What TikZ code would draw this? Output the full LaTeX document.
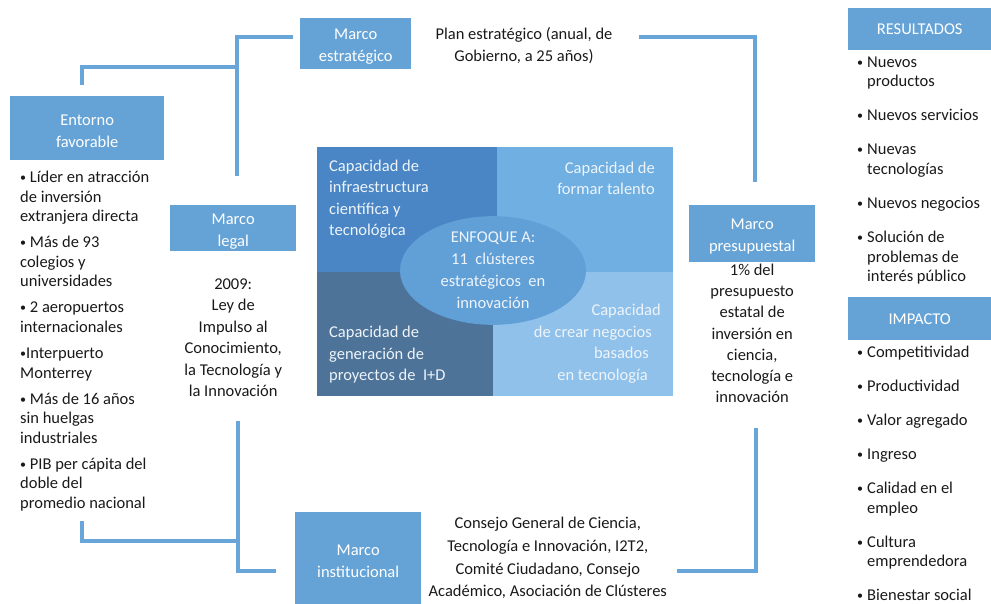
\documentclass[tikz,border=0pt]{standalone}
\usepackage{fontspec}
\setmainfont{Carlito}
\usepackage{xcolor}
\usepackage{tikz}
\usetikzlibrary{positioning,shapes.geometric}
\definecolor{frameblue}{HTML}{65A3D6}
\definecolor{linkblue}{HTML}{68A5D9}
\definecolor{capA}{HTML}{4A86C5}
\definecolor{capB}{HTML}{6FAFE2}
\definecolor{capC}{HTML}{4D7398}
\definecolor{capD}{HTML}{8FC1EA}
\definecolor{focusblue}{HTML}{619FD7}
\definecolor{softwhite}{HTML}{EEF4FA}
\newcommand{\sbul}{\raisebox{1pt}{\fontsize{12}{12}\selectfont •}}
\newcommand{\rbul}{\makebox[10pt][l]{\sbul}}
\newcommand{\rind}{\hspace*{10pt}}
\newcommand{\tstrut}{\rule{0pt}{16.5pt}}

\begin{document}
\begin{tikzpicture}[x=1pt, y=-1pt, node distance=6pt]
      \tikzstyle{frame} = [rectangle, fill=frameblue, text=white, align=center, inner sep=0pt, anchor=north west, font=\fontsize{16.5}{22}\selectfont]
      \tikzstyle{note} = [align=center, inner sep=0pt, text=black!90, font=\fontsize{16.5}{21.5}\selectfont]
      \tikzstyle{bullets} = [align=left, inner sep=0pt, anchor=west, text=black!90, font=\fontsize{16.5}{19.6}\selectfont]
      \tikzstyle{quad} = [rectangle, inner sep=0pt, anchor=north west]
      \tikzstyle{captext} = [inner sep=0pt, text=softwhite, font=\fontsize{16.5}{21.5}\selectfont]
      \tikzstyle{link} = [draw=linkblue, line width=4pt]
      \useasboundingbox (0,0) rectangle (991,603);

      % central square
      \node[quad, fill=capA, minimum width=180pt, minimum height=125pt] (qA) at (317,147) {};
      \node[quad, fill=capB, minimum width=176pt, minimum height=125pt] (qB) at (497,147) {};
      \node[quad, fill=capC, minimum width=176pt, minimum height=124pt] (qC) at (317,272) {};
      \node[quad, fill=capD, minimum width=180pt, minimum height=124pt] (qD) at (493,272) {};
      \node[captext, align=left, anchor=west] (tA) at (329,199) {Capacidad de\\infraestructura\\científica y\\tecnológica};
      \node[captext, align=right, anchor=east] (tB) at (655,178.5) {Capacidad de\\formar talento};
      \node[captext, align=left, anchor=west] (tC) at (329,355) {Capacidad de\\generación de\\proyectos de\ \ I+D};
      \node[captext, align=right, anchor=east] (tD) at (661,343.5) {Capacidad\\de crear negocios\hspace{9pt}\null\\basados\hspace{12pt}\null\\en tecnología\hspace{13pt}\null};
      \node[ellipse, fill=focusblue, minimum width=186pt, minimum height=108pt, inner sep=0pt, text=softwhite, align=center, font=\fontsize{16.5}{22}\selectfont] (focus) at (493,270.5) {ENFOQUE A:\\11\ \ clústeres\\estratégicos\ \ en\\innovación};

      % marcos
      \node[frame, minimum width=111pt, minimum height=51pt] (estrat) at (300,18) {\tstrut Marco\\estratégico};
      \node[frame, minimum width=154pt, minimum height=64pt] (entorno) at (10,96) {\tstrut Entorno\\favorable};
      \node[frame, minimum width=126pt, minimum height=46pt] (legal) at (170,205) {\tstrut Marco\\legal};
      \node[frame, minimum width=126pt, minimum height=57pt] (presu) at (689,205) {\tstrut Marco\\presupuestal};
      \node[frame, minimum width=126pt, minimum height=92pt] (inst) at (295,512) {\tstrut Marco\\institucional};
      \node[frame, minimum width=143pt, minimum height=42pt] (result) at (848,8) {RESULTADOS};
      \node[frame, minimum width=143pt, minimum height=43pt] (impact) at (848,297) {IMPACTO};

      \node[note] (plan) at (524,45.5) {Plan estratégico (anual, de\\Gobierno, a 25 años)};
      \node[note, below=27pt of legal] (ley) {2009:\\Ley de\\Impulso al\\Conocimiento,\\la Tecnología y\\la Innovación};
      \node[note, below=1.5pt of presu, font=\fontsize{16.5}{21.2}\selectfont] (budget) {1\% del\\presupuesto\\estatal de\\inversión en\\ciencia,\\tecnología e\\innovación};
      \node[note, right=7pt of inst, font=\fontsize{16.5}{22.7}\selectfont] (consejo) {Consejo General de Ciencia,\\Tecnología e Innovación, I2T2,\\Comité Ciudadano, Consejo\\Académico, Asociación de Clústeres};

      % lists
      \node[bullets] (envlist) at (20,341) {\sbul\ Líder en atracción\\de inversión\\extranjera directa\\[6.4pt]\sbul\ Más de 93\\colegios y\\universidades\\[6.4pt]\sbul\ 2 aeropuertos\\internacionales\\[6.4pt]\sbul Interpuerto\\Monterrey\\[6.4pt]\sbul\ Más de 16 años\\sin huelgas\\industriales\\[6.4pt]\sbul\ PIB per cápita del\\doble del\\promedio nacional};
      \node[bullets] (reslist) at (857,170.5) {\rbul Nuevos\\\rind productos\\[14.4pt]\rbul Nuevos servicios\\[14.4pt]\rbul Nuevas\\\rind tecnologías\\[14.4pt]\rbul Nuevos negocios\\[14.4pt]\rbul Solución de\\\rind problemas de\\\rind interés público};
      \node[bullets] (implist) at (857,473.5) {\rbul Competitividad\\[14.4pt]\rbul Productividad\\[14.4pt]\rbul Valor agregado\\[14.4pt]\rbul Ingreso\\[14.4pt]\rbul Calidad en el\\\rind empleo\\[14.4pt]\rbul Cultura\\\rind emprendedora\\[14.4pt]\rbul Bienestar social};

      % connectors
      \coordinate (eTop) at ([xshift=-5pt,yshift=11pt]entorno.north);
      \coordinate (sTop) at ([xshift=-7pt,yshift=6.5pt]estrat.west);
      \coordinate (sMid) at ([xshift=4pt,yshift=29pt]legal.north);
      \draw[link] (sTop) -| (sMid);
      \draw[link] (eTop) -- ++(0,-18) -| (sMid);
      \coordinate (sLow) at ([xshift=5pt,yshift=-23.5pt]ley.south);
      \coordinate (iIn) at ([xshift=-19pt,yshift=-13pt]inst.west);
      \draw[link] (sLow) |- (iIn);
      \coordinate (eBot) at ([xshift=62pt,yshift=-10pt]envlist.south west);
      \draw[link] (eBot) -- ++(0,20) -| (sLow);
      \coordinate (pEnd) at ([xshift=26pt,yshift=8.5pt]plan.east);
      \coordinate (pTop) at ([xshift=3pt,yshift=23pt]presu.north);
      \draw[link] (pEnd) -| (pTop);
      \coordinate (pLow) at ([xshift=4pt,yshift=-25pt]budget.south);
      \coordinate (cOut) at ([xshift=10pt,yshift=-13pt]consejo.east);
      \draw[link] (pLow) |- (cOut);
\end{tikzpicture}
\end{document}
